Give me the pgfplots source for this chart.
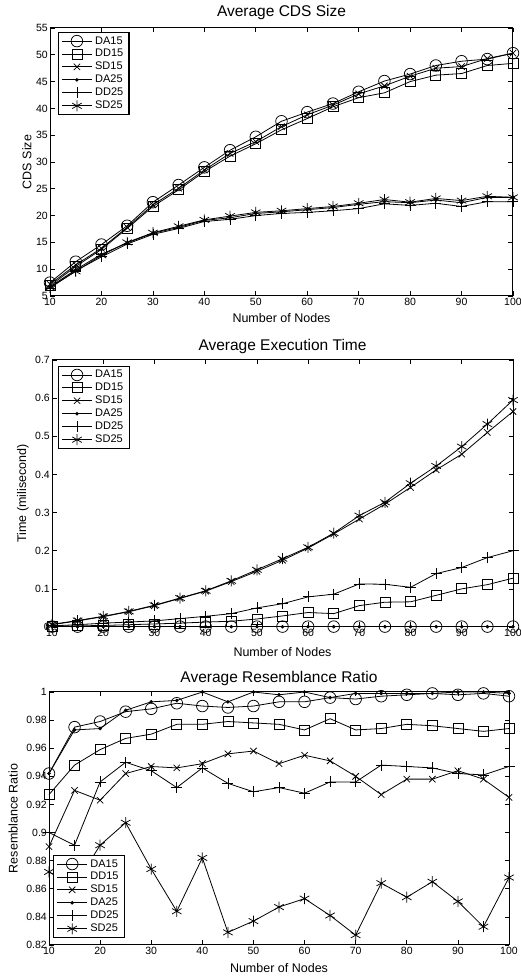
\documentclass[border=0pt]{standalone}
\usepackage{fontspec}
\setmainfont{Liberation Sans}
\usepackage{pgfplots}
\usepackage{pgfplotstable}
\pgfplotsset{compat=1.18}

% CDS size
\pgfplotstableread{
x DA15 DD15 SD15 DA25 DD25 SD25
10 7.5 6.9 7.2 6.7 6.5 6.6
15 11.4 10.5 10.8 9.9 9.7 9.6
20 14.6 13.7 13.9 12.8 12.3 12.6
25 18.1 17.6 17.8 14.9 14.7 15.0
30 22.5 21.7 22.0 16.7 16.5 16.8
35 25.7 24.8 25.1 17.8 17.6 18.0
40 29.0 28.2 28.5 19.1 18.9 19.2
45 32.2 31.1 31.6 19.6 19.3 19.9
50 34.7 33.4 33.8 20.4 20.0 20.6
55 37.6 36.0 36.6 20.7 20.4 20.9
60 39.3 38.1 38.8 21.1 20.6 21.3
65 40.9 40.3 40.6 21.5 20.9 21.7
70 43.1 42.0 42.7 22.1 21.3 22.3
75 45.1 42.9 44.2 22.6 22.2 23.0
80 46.4 45.0 46.0 22.4 21.9 22.5
85 48.0 46.2 47.5 22.9 22.3 23.2
90 48.8 46.5 47.8 22.4 21.7 22.8
95 49.2 48.0 49.3 23.4 22.6 23.6
100 50.3 48.4 50.3 23.4 22.6 23.4
}\cdsdata

% execution time
\pgfplotstableread{
x DA15 DD15 SD15 DA25 DD25 SD25
10 0.001 0.002 0.006 0.0008 0.003 0.007
15 0.001 0.003 0.016 0.0008 0.006 0.017
20 0.001 0.004 0.027 0.0008 0.010 0.028
25 0.001 0.006 0.040 0.0008 0.013 0.041
30 0.001 0.008 0.056 0.0008 0.016 0.057
35 0.001 0.010 0.075 0.0008 0.022 0.076
40 0.001 0.013 0.094 0.0008 0.028 0.095
45 0.001 0.015 0.119 0.0008 0.035 0.121
50 0.001 0.021 0.146 0.0008 0.050 0.150
55 0.001 0.029 0.175 0.0008 0.061 0.179
60 0.001 0.038 0.207 0.0008 0.079 0.209
65 0.001 0.035 0.244 0.0008 0.086 0.246
70 0.001 0.056 0.283 0.0008 0.113 0.292
75 0.001 0.065 0.322 0.0008 0.112 0.327
80 0.001 0.066 0.366 0.0008 0.104 0.377
85 0.001 0.083 0.412 0.0008 0.140 0.422
90 0.001 0.100 0.453 0.0008 0.156 0.473
95 0.001 0.111 0.510 0.0008 0.182 0.532
100 0.001 0.128 0.565 0.0008 0.200 0.595
}\timedata

% resemblance ratio
\pgfplotstableread{
x DA15 DD15 SD15 DA25 DD25 SD25
10 0.942 0.927 0.890 0.942 0.900 0.872
15 0.975 0.948 0.930 0.973 0.891 0.862
20 0.979 0.959 0.923 0.974 0.936 0.891
25 0.986 0.967 0.942 0.987 0.950 0.907
30 0.988 0.970 0.947 0.993 0.944 0.874
35 0.992 0.977 0.946 0.994 0.932 0.844
40 0.990 0.977 0.949 1.000 0.946 0.882
45 0.989 0.979 0.956 0.993 0.935 0.829
50 0.990 0.978 0.958 1.000 0.929 0.837
55 0.993 0.977 0.949 0.998 0.932 0.847
60 0.993 0.973 0.955 1.000 0.928 0.853
65 0.996 0.981 0.951 0.996 0.936 0.841
70 0.995 0.973 0.940 0.999 0.936 0.827
75 0.997 0.974 0.927 0.999 0.948 0.864
80 0.998 0.977 0.938 0.999 0.947 0.854
85 0.999 0.976 0.938 0.999 0.946 0.865
90 0.998 0.974 0.944 1.000 0.942 0.851
95 0.999 0.972 0.938 1.000 0.941 0.833
100 0.997 0.974 0.925 0.999 0.947 0.868
}\ratiodata

\pgfplotsset{
  mlab/.style={
    scale only axis, anchor=south west, clip=false,
    xmin=10, xmax=100, xtick={10,20,...,100},
    axis line style={line width=1pt},
    major tick length=4.5pt, tick style={line width=0.7pt, black},
    tick label style={font=\fontsize{10.5}{12}\selectfont},
    xticklabel style={inner sep=2pt},
    yticklabel style={inner sep=2pt},
    label style={font=\fontsize{12.5}{14}\selectfont},
    every axis title shift=0pt,
    title style={font=\fontsize{15.5}{17}\selectfont},
    /pgf/number format/assume math mode=true,
    scaled ticks=false,
    xlabel={Number of Nodes},
    legend cell align=left,
    legend image code/.code={
      \draw[line width=0.8pt, mark repeat=2, mark phase=2]
        plot coordinates {(0pt,0pt) (15pt,0pt) (30pt,0pt)};},
    legend style={draw=black, line width=1.3pt, fill=white,
      font=\fontsize{11}{12}\selectfont,
      nodes={inner xsep=2.8pt, inner ysep=1.9pt}},
  },
  ln/.style={black, line width=0.8pt, mark options={solid, line width=0.75pt}},
  da15/.style={ln, mark=o, mark size=5.8pt},
  dd15/.style={ln, mark=square, mark size=5pt},
  sd15/.style={ln, mark=x, mark size=4.5pt},
  da25/.style={ln, mark=*, mark size=1.4pt},
  dd25/.style={ln, mark=+, mark size=5.5pt},
  sd25/.style={ln, mark=asterisk, mark size=5.5pt},
}

\begin{document}
\begin{tikzpicture}[x=1pt, y=1pt]

\begin{axis}[mlab, at={(50pt,681pt)}, width=463pt, height=268pt,
  ymin=5, ymax=55, ytick={5,10,...,55},
  title={Average CDS Size},
  title style={at={(axis description cs:0.5,1.058)}, anchor=center},
  ylabel={CDS Size},
  ylabel style={at={(axis description cs:-0.05,0.5)}, anchor=center},
  xlabel style={at={(axis description cs:0.5,-0.082)}, anchor=center},
  legend style={at={(0.017,0.985)}, anchor=north west}]
\addplot[da15] table[y=DA15] {\cdsdata};
\addplot[dd15] table[y=DD15] {\cdsdata};
\addplot[sd15] table[y=SD15] {\cdsdata};
\addplot[da25] table[y=DA25] {\cdsdata};
\addplot[dd25] table[y=DD25] {\cdsdata};
\addplot[sd25] table[y=SD25] {\cdsdata};
\legend{DA15,DD15,SD15,DA25,DD25,SD25}
\end{axis}

\begin{axis}[mlab, at={(52pt,350pt)}, width=461pt, height=267pt,
  ymin=0, ymax=0.7, ytick={0,0.1,0.2,0.3,0.4,0.5,0.6,0.7},
  title={Average Execution Time},
  title style={at={(axis description cs:0.5,1.052)}, anchor=center},
  ylabel={Time (milisecond)},
  ylabel style={at={(axis description cs:-0.063,0.5)}, anchor=center},
  xlabel style={at={(axis description cs:0.5,-0.0925)}, anchor=center},
  legend style={at={(0.013,0.978)}, anchor=north west}]
\addplot[da15] table[y=DA15] {\timedata};
\addplot[dd15] table[y=DD15] {\timedata};
\addplot[sd15] table[y=SD15] {\timedata};
\addplot[da25] table[y=DA25] {\timedata};
\addplot[dd25] table[y=DD25] {\timedata};
\addplot[sd25] table[y=SD25] {\timedata};
\legend{DA15,DD15,SD15,DA25,DD25,SD25}
\end{axis}

\begin{axis}[mlab, at={(49pt,32pt)}, width=460pt, height=253pt,
  ymin=0.82, ymax=1,
  ytick={0.82,0.84,0.86,0.88,0.9,0.92,0.94,0.96,0.98,1},
  title={Average Resemblance Ratio},
  title style={at={(axis description cs:0.5,1.055)}, anchor=center},
  ylabel={Resemblance Ratio},
  ylabel style={at={(axis description cs:-0.078,0.5)}, anchor=center},
  xlabel style={at={(axis description cs:0.5,-0.091)}, anchor=center},
  legend style={at={(0.009,0.028)}, anchor=south west}]
\addplot[da15] table[y=DA15] {\ratiodata};
\addplot[dd15] table[y=DD15] {\ratiodata};
\addplot[sd15] table[y=SD15] {\ratiodata};
\addplot[da25] table[y=DA25] {\ratiodata};
\addplot[dd25] table[y=DD25] {\ratiodata};
\addplot[sd25] table[y=SD25] {\ratiodata};
\legend{DA15,DD15,SD15,DA25,DD25,SD25}
\end{axis}

\pgfresetboundingbox
\path[use as bounding box] (0pt,0pt) rectangle (521pt,977pt);
\end{tikzpicture}
\end{document}
